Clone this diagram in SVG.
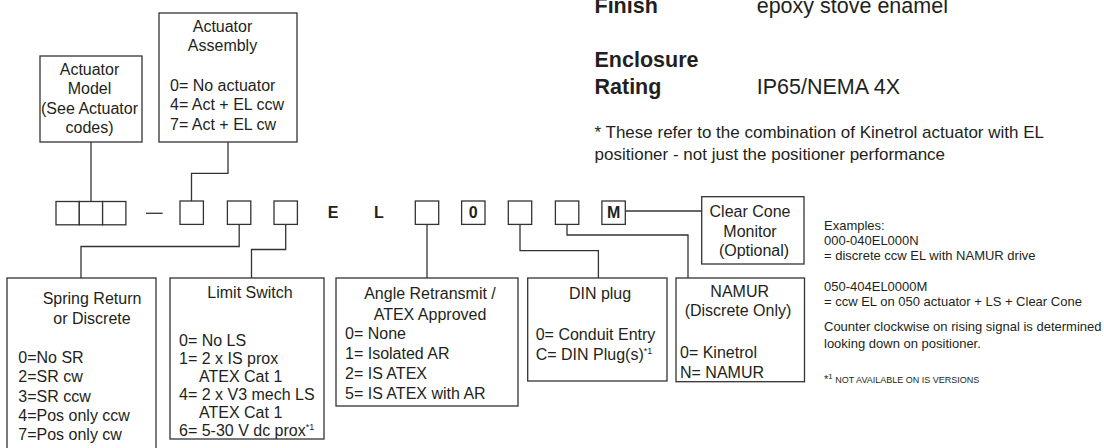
<svg xmlns="http://www.w3.org/2000/svg" width="1104" height="448" viewBox="0 0 1104 448">
<style>
text{font-family:"Liberation Sans",Arial,Helvetica,sans-serif;fill:#231f20}
.b{fill:#fff;stroke:#333;stroke-width:1.3}
.c{fill:none;stroke:#333;stroke-width:1.3}
.t{font-size:16px}
.m{text-anchor:middle}
.h{font-size:21.5px}
.bd{font-weight:bold}
.s{font-size:17px}
.e{font-size:13px}
.sup{font-size:9px}
</style>
<rect width="1104" height="448" fill="#fff"/>

<g id="specs">
<text class="h bd" x="594.5" y="12.5">Finish</text>
<text class="h" x="756.7" y="12.5">epoxy stove enamel</text>
<text class="h bd" x="594.5" y="66.7">Enclosure</text>
<text class="h bd" x="594.5" y="94">Rating</text>
<text class="h" x="756.7" y="94">IP65/NEMA 4X</text>
<text class="s" x="594.5" y="138.3">* These refer to the combination of Kinetrol actuator with EL</text>
<text class="s" x="594.5" y="159.5">positioner - not just the positioner performance</text>
</g>

<g id="connectors">
<path class="c" d="M91 142V201"/>
<path class="c" d="M228 142V173.3H191.5V201"/>
<path class="c" d="M239.2 224.5V246.5H81V278"/>
<path class="c" d="M285.7 224.5V249.5H251.5V278"/>
<path class="c" d="M427 224.5V278"/>
<path class="c" d="M520 224.5V250.7H598.4V278"/>
<path class="c" d="M567 224.5V235H688V278"/>
<path class="c" d="M625.3 211H701.7"/>
</g>

<g id="actuator-model">
<rect class="b" x="40" y="56" width="102" height="86"/>
<text class="t m" x="89.5" y="75">Actuator</text>
<text class="t m" x="89.5" y="94.3">Model</text>
<text class="t m" x="89.5" y="114">(See Actuator</text>
<text class="t m" x="89.5" y="133.3">codes)</text>
</g>

<g id="actuator-assembly">
<rect class="b" x="159" y="13" width="138" height="129"/>
<text class="t m" x="222.5" y="32.3">Actuator</text>
<text class="t m" x="222.5" y="51">Assembly</text>
<text class="t" x="170" y="90.7">0= No actuator</text>
<text class="t" x="170" y="110.3">4= Act + EL ccw</text>
<text class="t" x="170" y="130">7= Act + EL cw</text>
</g>

<g id="code-row">
<rect class="b" x="56" y="201.5" width="23.3" height="23.3"/>
<rect class="b" x="79.3" y="201.5" width="23.3" height="23.3"/>
<rect class="b" x="102.6" y="201.5" width="23.3" height="23.3"/>
<path class="c" d="M146 213.3H162.7"/>
<rect class="b" x="180" y="201" width="23.4" height="23.4"/>
<rect class="b" x="227.4" y="201" width="23.4" height="23.4"/>
<rect class="b" x="274" y="201" width="23.4" height="23.4"/>
<text class="t bd m" x="333" y="217.7">E</text>
<text class="t bd m" x="379" y="217.7">L</text>
<rect class="b" x="415.3" y="201" width="23.4" height="23.4"/>
<rect class="b" x="461.6" y="201" width="23.4" height="23.4"/>
<text class="t bd m" x="473.3" y="217.7">0</text>
<rect class="b" x="508.3" y="201" width="23.4" height="23.4"/>
<rect class="b" x="555.4" y="201" width="23.4" height="23.4"/>
<rect class="b" x="601.9" y="201" width="23.4" height="23.4"/>
<text class="t bd m" x="613.6" y="217.7">M</text>
</g>

<g id="clear-cone">
<rect class="b" x="701.7" y="196.7" width="102.3" height="67.3"/>
<text class="t m" x="750" y="216.7">Clear Cone</text>
<text class="t m" x="750" y="236.5">Monitor</text>
<text class="t m" x="754" y="256">(Optional)</text>
</g>

<g id="spring-return">
<rect class="b" x="7" y="278" width="149" height="175"/>
<text class="t m" x="92" y="304">Spring Return</text>
<text class="t m" x="92" y="323.5">or Discrete</text>
<text class="t" x="18.3" y="363">0=No SR</text>
<text class="t" x="18.3" y="382">2=SR cw</text>
<text class="t" x="18.3" y="401.5">3=SR ccw</text>
<text class="t" x="18.3" y="421">4=Pos only ccw</text>
<text class="t" x="18.3" y="440">7=Pos only cw</text>
</g>

<g id="limit-switch">
<rect class="b" x="170" y="278" width="154" height="161"/>
<text class="t m" x="250" y="298">Limit Switch</text>
<text class="t" x="179" y="345.5">0= No LS</text>
<text class="t" x="179" y="363.5">1= 2 x IS prox</text>
<text class="t" x="199" y="381.5">ATEX Cat 1</text>
<text class="t" x="179" y="399.5">4= 2 x V3 mech LS</text>
<text class="t" x="199" y="417.5">ATEX Cat 1</text>
<text class="t" x="179" y="435.5">6= 5-30 V dc prox<tspan class="sup" dy="-6">*1</tspan></text>
</g>

<g id="angle-retransmit">
<rect class="b" x="336" y="278" width="182" height="128"/>
<text class="t m" x="430" y="299">Angle Retransmit /</text>
<text class="t m" x="430" y="319.5">ATEX Approved</text>
<text class="t" x="345" y="339">0= None</text>
<text class="t" x="345" y="359">1= Isolated AR</text>
<text class="t" x="345" y="379">2= IS ATEX</text>
<text class="t" x="345" y="399">5= IS ATEX with AR</text>
</g>

<g id="din-plug">
<rect class="b" x="527.7" y="278" width="139.3" height="103"/>
<text class="t m" x="600" y="299">DIN plug</text>
<text class="t" x="535.7" y="340">0= Conduit Entry</text>
<text class="t" x="535.7" y="360">C= DIN Plug(s)<tspan class="sup" dy="-6">*1</tspan></text>
</g>

<g id="namur">
<rect class="b" x="676" y="278" width="128.5" height="103.7"/>
<text class="t m" x="739.7" y="296.5">NAMUR</text>
<text class="t m" x="738" y="315.5">(Discrete Only)</text>
<text class="t" x="680" y="357.7">0= Kinetrol</text>
<text class="t" x="680" y="377.7">N= NAMUR</text>
</g>

<g id="notes">
<text class="e" x="824" y="230">Examples:</text>
<text class="e" x="824" y="245">000-040EL000N</text>
<text class="e" x="824" y="260">= discrete ccw EL with NAMUR drive</text>
<text class="e" x="824" y="291">050-404EL0000M</text>
<text class="e" x="824" y="305.5">= ccw EL on 050 actuator + LS + Clear Cone</text>
<text class="e" x="824" y="331">Counter clockwise on rising signal is determined</text>
<text class="e" x="824" y="347.5">looking down on positioner.</text>
<text x="824" y="383" style="font-size:11px">*<tspan style="font-size:8px" dy="-4">1</tspan><tspan style="font-size:9px" dy="4"> NOT AVAILABLE ON IS VERSIONS</tspan></text>
</g>
</svg>
